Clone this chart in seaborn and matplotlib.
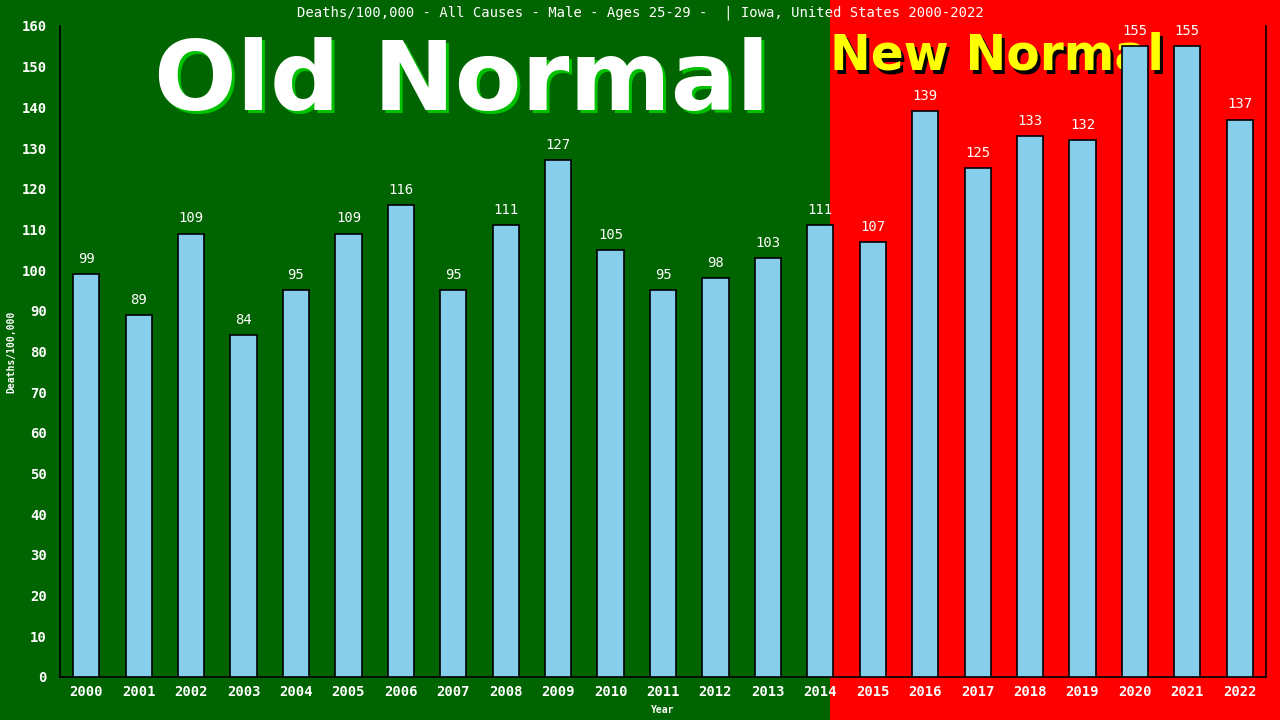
import pandas as pd
import matplotlib.pyplot as plt
import seaborn as sns
from matplotlib.patches import Rectangle

# --- Données ---
years = [str(y) for y in range(2000, 2023)]
deaths = [99, 89, 109, 84, 95, 109, 116, 95, 111, 127, 105, 95,
          98, 103, 111, 107, 139, 125, 133, 132, 155, 155, 137]
yticks = list(range(0, 161, 10))

df = pd.DataFrame({"Year": years, "Deaths": deaths})

green = "#006400"
red = "#ff0000"
mono = "DejaVu Sans Mono"

sns.set_style("white")
plt.rcParams["font.family"] = ["DejaVu Sans Mono"]

fig = plt.figure(figsize=(12.8, 7.2), dpi=100, facecolor=green)
# zone rouge "New Normal" (coordonnées figure), derrière les axes
fig.patches.append(Rectangle((830 / 1280, 0), 1 - 830 / 1280, 1, transform=fig.transFigure,
                             facecolor=red, edgecolor="none", zorder=-10))

ax = fig.add_axes([60 / 1280, 43 / 720, 1206 / 1280, 651 / 720])
ax.set_facecolor("none")
ax.set_zorder(1)

# Gros textes "Old Normal" / "New Normal" (derrière les barres)
big = "DejaVu Sans"
fig.text(465 / 1280, 1 - 113 / 720, "Old Normal", ha="center", va="baseline", color="#00c000",
         fontsize=70, fontweight="bold", family=big, zorder=-5)
fig.text(462 / 1280, 1 - 110 / 720, "Old Normal", ha="center", va="baseline", color="white",
         fontsize=70, fontweight="bold", family=big, zorder=-4)
fig.text(833 / 1280, 1 - 73 / 720, "New Normal", ha="left", va="baseline", color="black",
         fontsize=35, fontweight="bold", family=big, zorder=-5)
fig.text(830 / 1280, 1 - 70 / 720, "New Normal", ha="left", va="baseline", color="yellow",
         fontsize=35, fontweight="bold", family=big, zorder=-4)

sns.barplot(data=df, x="Year", y="Deaths", color="#87ceeb", width=0.5,
            edgecolor="black", linewidth=1.2, saturation=1, ax=ax, zorder=3)

# Valeurs au-dessus des barres
for i, v in enumerate(deaths):
    ax.text(i, v + 2, str(v), ha="center", va="bottom", color="white",
            fontsize=10, family=mono, zorder=4)

ax.set_xlim(-0.5, len(years) - 0.5)
ax.set_ylim(0, 160)
ax.set_yticks(yticks)
ax.tick_params(axis="y", colors="white", labelsize=10, direction="out", length=6, color="black")
ax.tick_params(axis="x", colors="white", labelsize=10, length=0, pad=6)
for lab in ax.get_xticklabels() + ax.get_yticklabels():
    lab.set_fontweight("bold")

for side in ["left", "bottom", "right"]:
    ax.spines[side].set_color("black")
    ax.spines[side].set_linewidth(1.2)
ax.spines["top"].set_visible(False)

ax.set_xlabel("Year", color="white", fontsize=7, fontweight="bold", labelpad=4)
ax.set_ylabel("Deaths/100,000", color="white", fontsize=7, fontweight="bold", labelpad=4)

# Titre
fig.text(0.5, 1 - 13 / 720, "Deaths/100,000 - All Causes - Male - Ages 25-29 -  | Iowa, United States 2000-2022",
         ha="center", va="center", color="white", fontsize=10, family=mono)

plt.savefig("out.png", dpi=100, facecolor=fig.get_facecolor())
plt.close()
